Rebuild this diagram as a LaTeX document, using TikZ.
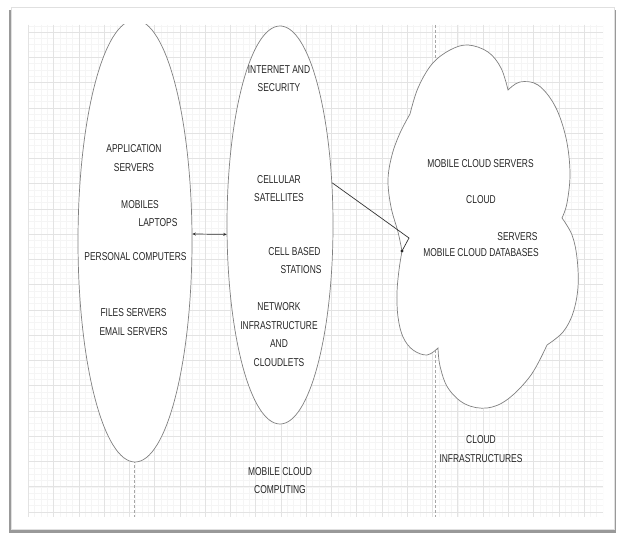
\documentclass[tikz,border=0pt]{standalone}
\usepackage{fontspec}
\setmainfont[FakeStretch=0.74]{Liberation Sans}
\usetikzlibrary{shapes.geometric,arrows.meta}
\begin{document}
\begin{tikzpicture}[x=1pt,y=-1pt,
  lbl/.style={inner sep=0pt, align=center, text=black!85, font=\fontsize{11.4}{18.5}\selectfont},
  oval/.style={ellipse, draw=black!50, line width=0.7pt, fill=white, inner sep=0pt},
  link/.style={draw=black!80, line width=0.7pt},
  minorline/.style={draw=black!4, line width=0.4pt},
  majorline/.style={draw=black!11, line width=0.5pt},
  pagebreak/.style={draw=black!35, dash pattern=on 3pt off 2pt, line width=0.6pt}]
\useasboundingbox (0,0) rectangle (617,537);
\fill[white] (0,0) rectangle (617,537);
% page with shadow
\fill[black!40] (9,10) rectangle (616,533);
\fill[white] (11.5,7) rectangle (614.5,529);
\draw[black!12, line width=0.5pt] (11.5,7) rectangle (614.5,529);
% grid
\begin{scope}
\clip (28,25) rectangle (603,517);
\foreach \i in {0,...,95} \draw[minorline] (9.35+\i*6.315,25) -- ++(0,492);
\foreach \i in {0,...,82} \draw[minorline] (28,19.4+\i*6.315) -- ++(575,0);
\foreach \i in {0,...,23} \draw[majorline] (28.3+\i*25.26,25) -- ++(0,492);
\foreach \i in {-1,...,20} \draw[majorline] (28,32+\i*25.26) -- ++(575,0);
\end{scope}
\draw[pagebreak] (134,25) -- (134,517);
\draw[pagebreak] (435,25) -- (435,517);
% left oval, clipped at the top
\begin{scope}
\clip (28,25) rectangle (603,517);
\node[oval, minimum width=114, minimum height=442] (L) at (135,241) {};
\end{scope}
\node[oval, minimum width=106, minimum height=398] (M) at (280,225) {};
% cloud
\path[draw=black!50, line width=0.7pt, fill=white]
  plot[smooth, tension=0.6] coordinates {(410,114) (418,88) (432,64) (450,50) (468,45) (488,52) (501,68) (508,90)}
  -- plot[smooth, tension=0.6] coordinates {(508,90) (520,82) (538,85) (555,106) (566,138) (570,173) (567,203) (562,218)}
  -- plot[smooth, tension=0.6] coordinates {(562,218) (572,235) (577,258) (578,287) (573,313) (563,332) (547,345)}
  -- plot[smooth, tension=0.6] coordinates {(547,345) (531,375) (508,399) (487,408) (465,404) (448,388) (440,366) (438,348)}
  -- plot[smooth, tension=0.6] coordinates {(438,348) (427,355) (413,350) (403,337) (398,317) (397,293) (399,270) (402,251)}
  -- plot[smooth, tension=0.6] coordinates {(402,251) (398,232) (391,207) (388,180) (392,155) (400,133) (410,114)}
  -- cycle;
\coordinate (bend) at (409,238);
\coordinate (cloudpt) at (402,251);
% connectors
\draw[link, {Stealth[length=3.5pt,width=3pt]}-{Stealth[length=3.5pt,width=3pt]}] (L.7) -- (M.190);
\draw[link] (M.39) -- (bend) -- (cloudpt);
\fill[black!85] (cloudpt) circle (1.7);
% labels
\node[lbl] (t1) at (134,158) {APPLICATION\\SERVERS};
\node[lbl] (t2) at (140,205) {MOBILES};
\node[lbl] (t3) at (158,223) {LAPTOPS};
\node[lbl] (t4) at (135.5,257) {PERSONAL COMPUTERS};
\node[lbl] (t5) at (133.5,322) {FILES SERVERS\\EMAIL SERVERS};
\node[lbl] (t6) at (279,78.5) {INTERNET AND\\SECURITY};
\node[lbl] (t7) at (279,188.5) {CELLULAR\\SATELLITES};
\node[lbl] (t8) at (294.5,252) {CELL BASED};
\node[lbl] (t9) at (301,270) {STATIONS};
\node[lbl] (t10) at (279,334.5) {NETWORK\\INFRASTRUCTURE\\AND\\CLOUDLETS};
\node[lbl] (t11) at (280,480.5) {MOBILE CLOUD\\COMPUTING};
\node[lbl] (t12) at (480.5,164) {MOBILE CLOUD SERVERS};
\node[lbl] (t13) at (481,200) {CLOUD};
\node[lbl] (t14) at (517.5,237) {SERVERS};
\node[lbl] (t15) at (481,253) {MOBILE CLOUD DATABASES};
\node[lbl] (t16) at (481,449) {CLOUD\\INFRASTRUCTURES};
\end{tikzpicture}
\end{document}
